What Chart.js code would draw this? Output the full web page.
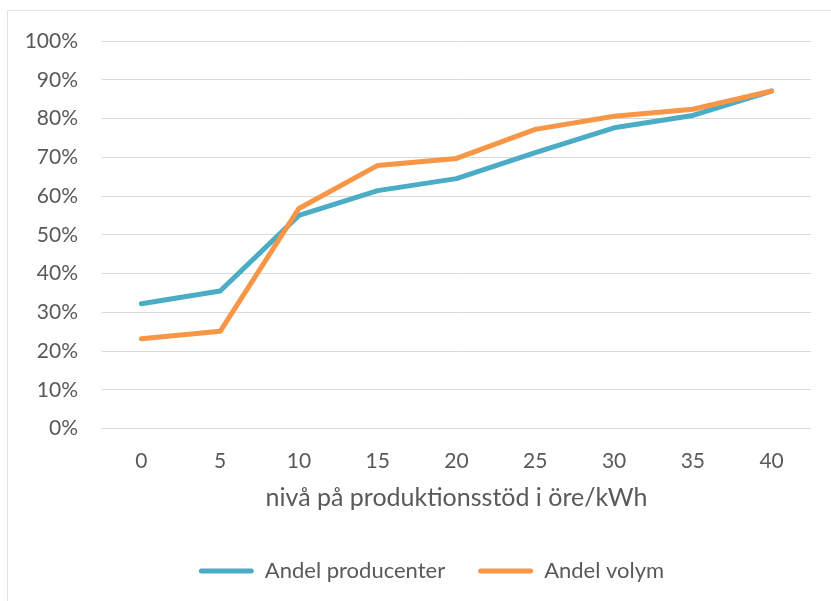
<!DOCTYPE html>
<html>
<head>
<meta charset="utf-8">
<script src="https://cdn.jsdelivr.net/npm/chart.js@4"></script>
<style>
  html, body { margin: 0; padding: 0; background: #fff; overflow: hidden; }
  #wrap { position: relative; width: 831px; height: 601px; }
  #frame { position: absolute; left: 7px; top: 10px; width: 840px; height: 620px; border: 1px solid #e3e3e3; box-sizing: border-box; }
  canvas { position: absolute; left: 0; top: 0; }
</style>
</head>
<body>
<div id="wrap">
  <div id="frame"></div>
  <canvas id="c" width="831" height="601"></canvas>
</div>
<script>
const categories = ["0", "5", "10", "15", "20", "25", "30", "35", "40"];
const andelProducenter = [32.2, 35.5, 55.0, 61.4, 64.5, 71.2, 77.6, 80.8, 87.1];
const andelVolym = [23.2, 25.1, 56.8, 67.9, 69.7, 77.2, 80.6, 82.4, 87.1];
const yTicks = [0, 10, 20, 30, 40, 50, 60, 70, 80, 90, 100];
const seriesNames = ["Andel producenter", "Andel volym"];
const xTitle = "nivå på produktionsstöd i öre/kWh";

const TEAL = "#4BACC6";
const ORANGE = "#F79646";
const TEXT = "#595959";
const FONT = "Lato, 'Open Sans', sans-serif";

const legendShift = {
  id: "legendShift",
  afterLayout(chart) {
    if (chart.legend) { chart.legend.left += 26; chart.legend.right += 26; }
  }
};

new Chart(document.getElementById("c"), {
  type: "line",
  plugins: [legendShift],
  data: {
    labels: categories,
    datasets: [
      {
        label: seriesNames[0], data: andelProducenter,
        borderColor: TEAL, backgroundColor: TEAL, borderWidth: 5,
        pointRadius: 0, pointHoverRadius: 0, tension: 0,
        borderCapStyle: "round", borderJoinStyle: "round", order: 1
      },
      {
        label: seriesNames[1], data: andelVolym,
        borderColor: ORANGE, backgroundColor: ORANGE, borderWidth: 5,
        pointRadius: 0, pointHoverRadius: 0, tension: 0,
        borderCapStyle: "round", borderJoinStyle: "round", order: 0
      }
    ]
  },
  options: {
    responsive: false,
    animation: false,
    events: [],
    layout: { padding: { left: 0, right: 20, top: 41, bottom: 9 } },
    scales: {
      x: {
        offset: true,
        afterFit: (axis) => { axis.height = 98.4; },
        grid: { display: false, drawTicks: false },
        border: { display: false },
        ticks: { color: TEXT, font: { family: FONT, size: 21 }, padding: 20 },
        title: {
          display: true, text: xTitle, color: TEXT,
          font: { family: FONT, size: 25 }, padding: { top: 0, bottom: 14 }
        }
      },
      y: {
        min: 0, max: 100,
        afterFit: (axis) => { axis.width = 102; },
        afterBuildTicks: (axis) => { axis.ticks = yTicks.map(v => ({ value: v })); },
        grid: { color: "#d9d9d9", lineWidth: 1, drawTicks: false },
        border: { display: false },
        ticks: {
          color: TEXT, font: { family: FONT, size: 21 }, padding: 24,
          callback: (v) => v + "%"
        }
      }
    },
    plugins: {
      tooltip: { enabled: false },
      legend: {
        position: "bottom",
        labels: {
          color: TEXT,
          font: { family: FONT, size: 22 },
          boxWidth: 55, boxHeight: 5,
          useBorderRadius: true, borderRadius: 2.5,
          padding: 33,
          sort: (a, b) => a.datasetIndex - b.datasetIndex,
          generateLabels: (chart) => {
            const items = Chart.defaults.plugins.legend.labels.generateLabels(chart);
            items.forEach(it => { it.lineWidth = 0; it.fillStyle = it.strokeStyle; });
            return items;
          }
        }
      }
    }
  }
});
</script>
</body>
</html>
